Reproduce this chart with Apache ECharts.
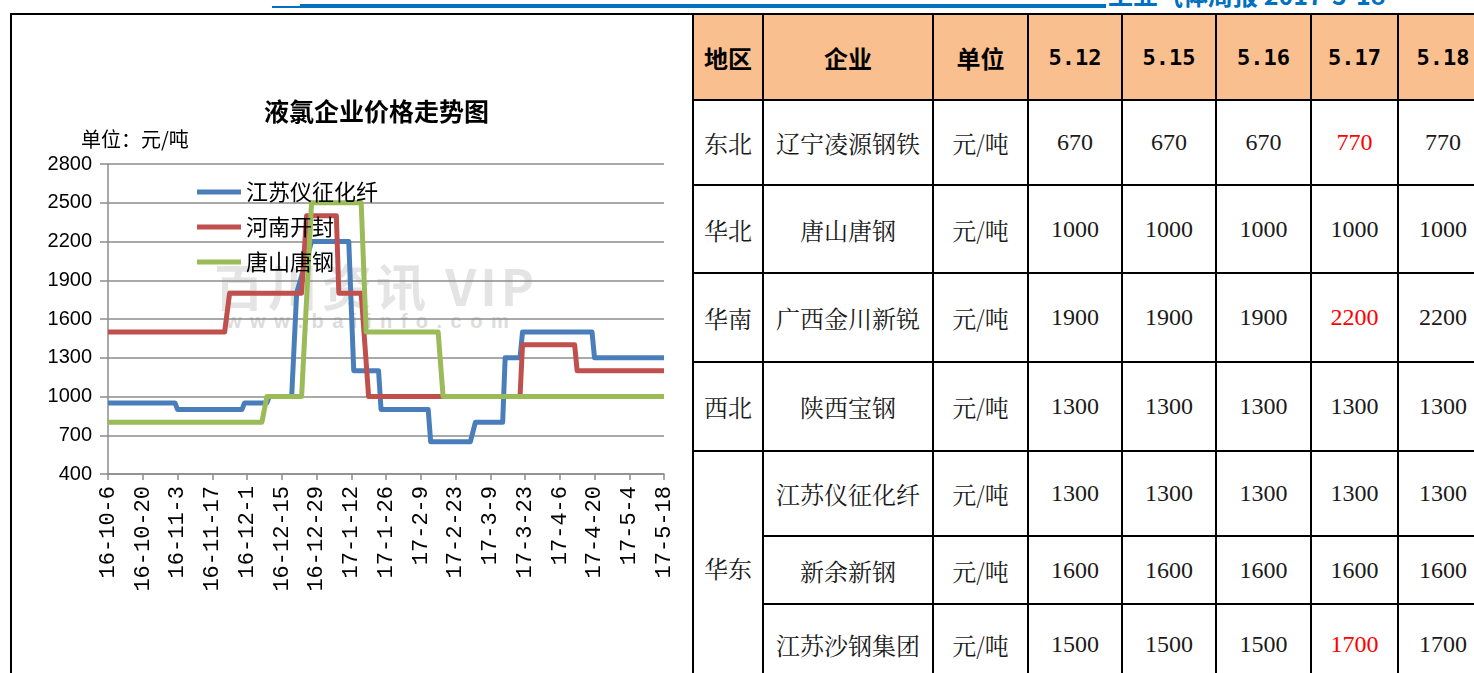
<!DOCTYPE html>
<html>
<head>
<meta charset="utf-8">
<script src="https://cdn.jsdelivr.net/npm/echarts/dist/echarts.min.js"></script>
<style>
  html, body { margin:0; padding:0; width:1474px; height:673px; overflow:hidden; background:#fff; }
  #frame { position:absolute; left:10px; top:13px; width:700px; height:720px; border-left:2px solid #000; border-top:2px solid #000; box-sizing:border-box; }
  .wm1 { position:absolute; left:214px; top:248px; font:bold 50px "Noto Sans CJK SC", "Liberation Sans"; color:#e4e4e4; letter-spacing:4px; white-space:nowrap; z-index:1; }
  .wm2 { position:absolute; left:226px; top:310px; font:bold 20px "Liberation Sans"; color:#dcdcdc; letter-spacing:8.5px; white-space:nowrap; z-index:1; }
  #chart { position:absolute; left:0; top:0; width:692px; height:673px; z-index:2; }
  .bl1 { position:absolute; left:272px; top:6px; width:30px; height:2px; background:#0070C0; }
  .bl2 { position:absolute; left:300px; top:4px; width:806px; height:4px; background:#0070C0; }
  .btitle { position:absolute; left:1108px; top:-24px; font:bold 25px "Noto Sans CJK SC"; color:#0070C0; white-space:nowrap; }
  #tbl { position:absolute; left:692px; top:13px; border-collapse:collapse; table-layout:fixed; width:795px; z-index:3; background:#fff; }
  #tbl td { border:2px solid #000; text-align:center; vertical-align:middle; padding:0; font-size:24px; color:#1a1a1a;
            font-family:"Noto Serif CJK SC","Noto Sans CJK SC"; overflow:hidden; white-space:nowrap; }
  #tbl tr.head td { background:#F9BF8F; color:#000; font-weight:bold; font-family:"Noto Sans CJK SC"; }
  #tbl tr.head td.d { font-family:"DejaVu Sans Mono"; font-size:22px; }
  #tbl td.n { font-family:"Liberation Serif"; font-size:24px; }
  #tbl td.up { color:#FF0000; }
</style>
</head>
<body>
<div class="bl1"></div><div class="bl2"></div>
<div class="btitle">工业气体周报 2017-5-18</div>
<div id="frame"></div>
<div class="wm1">百川资讯 VIP</div>
<div class="wm2">www.baiinfo.com</div>
<div id="chart"></div>
<table id="tbl"></table>
<script>
// ---------- chart data ----------
const chartTitle = '液氯企业价格走势图';
const unitLabel = '单位：元/吨';
const seriesNames = ['江苏仪征化纤', '河南开封', '唐山唐钢'];
const startDate = '2016-10-06';
const tickLabels = ['16-10-6','16-10-20','16-11-3','16-11-17','16-12-1','16-12-15','16-12-29',
  '17-1-12','17-1-26','17-2-9','17-2-23','17-3-9','17-3-23','17-4-6','17-4-20','17-5-4','17-5-18'];
// [date, price] at each price change
const yizheng = [
  ['2016-10-06',950],['2016-11-02',950],['2016-11-03',900],['2016-11-29',900],['2016-11-30',950],
  ['2016-12-09',950],['2016-12-10',1000],['2016-12-19',1000],['2016-12-21',1800],['2016-12-27',2200],
  ['2017-01-11',2200],['2017-01-13',1200],['2017-01-23',1200],['2017-01-24',900],['2017-02-12',900],
  ['2017-02-13',650],['2017-03-01',650],['2017-03-03',800],['2017-03-14',800],['2017-03-15',1300],
  ['2017-03-21',1300],['2017-03-22',1500],['2017-04-19',1500],['2017-04-20',1300],['2017-05-18',1300]
];
const kaifeng = [
  ['2016-10-06',1500],['2016-11-22',1500],['2016-11-24',1800],['2016-12-23',1800],['2016-12-25',2400],
  ['2017-01-06',2400],['2017-01-07',1800],['2017-01-16',1800],['2017-01-19',1000],['2017-03-21',1000],
  ['2017-03-22',1400],['2017-04-12',1400],['2017-04-13',1200],['2017-05-18',1200]
];
const tanggang = [
  ['2016-10-06',800],['2016-12-07',800],['2016-12-09',1000],['2016-12-23',1000],['2016-12-27',2500],
  ['2017-01-16',2500],['2017-01-18',1500],['2017-02-16',1500],['2017-02-18',1000],['2017-05-18',1000]
];
const seriesColors = ['#4A7EBB', '#C0504D', '#9BBB59'];

// ---------- table data ----------
const headLabels = ['地区', '企业', '单位'];
const dateCols = ['5.12', '5.15', '5.16', '5.17', '5.18'];
const regions = ['东北', '华北', '华南', '西北', '华东'];
const regionSpans = [1, 1, 1, 1, 3];
const companies = ['辽宁凌源钢铁', '唐山唐钢', '广西金川新锐', '陕西宝钢', '江苏仪征化纤', '新余新钢', '江苏沙钢集团'];
const unitText = '元/吨';
const prices = [
  [670, 670, 670, 770, 770],
  [1000, 1000, 1000, 1000, 1000],
  [1900, 1900, 1900, 2200, 2200],
  [1300, 1300, 1300, 1300, 1300],
  [1300, 1300, 1300, 1300, 1300],
  [1600, 1600, 1600, 1600, 1600],
  [1500, 1500, 1500, 1700, 1700]
];

// ---------- build table ----------
(function () {
  const colW = [70, 170, 95, 94, 94, 95, 87, 90];
  const rowH = [86, 85, 88, 89, 89, 85, 68, 80];
  const tbl = document.getElementById('tbl');
  const cg = document.createElement('colgroup');
  colW.forEach(w => { const c = document.createElement('col'); c.style.width = w + 'px'; cg.appendChild(c); });
  tbl.appendChild(cg);
  const hr = document.createElement('tr'); hr.className = 'head'; hr.style.height = rowH[0] + 'px';
  headLabels.concat(dateCols).forEach((t, i) => {
    const td = document.createElement('td'); td.textContent = t; if (i >= headLabels.length) td.className = 'd'; hr.appendChild(td);
  });
  tbl.appendChild(hr);
  let ri = 0, left = 0;
  companies.forEach((comp, k) => {
    const tr = document.createElement('tr'); tr.style.height = rowH[k + 1] + 'px';
    if (left === 0) {
      const td = document.createElement('td'); td.textContent = regions[ri]; td.rowSpan = regionSpans[ri];
      left = regionSpans[ri]; ri++; tr.appendChild(td);
    }
    left--;
    const c1 = document.createElement('td'); c1.textContent = comp; tr.appendChild(c1);
    const c2 = document.createElement('td'); c2.textContent = unitText; tr.appendChild(c2);
    prices[k].forEach((v, j) => {
      const td = document.createElement('td'); td.textContent = v;
      td.className = 'n' + (j > 0 && v !== prices[k][j - 1] ? ' up' : '');
      tr.appendChild(td);
    });
    tbl.appendChild(tr);
  });
})();

// ---------- chart ----------
const DAY = 86400000;
const t0 = Date.parse(startDate + 'T00:00:00Z');
const toDays = arr => arr.map(p => [Math.round((Date.parse(p[0] + 'T00:00:00Z') - t0) / DAY), p[1]]);
const tickStep = 14;
const span = (tickLabels.length - 1) * tickStep;

const chart = echarts.init(document.getElementById('chart'), null, { renderer: 'canvas' });
const axisGray = '#8c8c8c';
chart.setOption({
  animation: false,
  backgroundColor: 'transparent',
  grid: { left: 108, top: 164, width: 556, height: 310, containLabel: false },
  graphic: [
    { type: 'text', left: 264, top: 99, z: 10,
      style: { text: chartTitle, font: 'bold 25px "Noto Sans CJK SC"', fill: '#000' } },
    { type: 'text', left: 81, top: 129, z: 10,
      style: { text: unitLabel, font: '20px "Noto Sans CJK SC"', fill: '#000' } }
  ],
  legend: {
    orient: 'vertical', left: 197, top: 181, padding: 0, itemWidth: 44, itemHeight: 5, itemGap: 13,
    icon: 'rect', data: seriesNames,
    textStyle: { fontSize: 22, fontFamily: 'Noto Sans CJK SC', color: '#000', lineHeight: 22 }
  },
  xAxis: {
    type: 'value', min: 0, max: span, interval: tickStep,
    axisLine: { show: true, lineStyle: { color: axisGray, width: 1.5 } },
    axisTick: { show: true, length: 6, lineStyle: { color: axisGray, width: 1.5 } },
    splitLine: { show: false },
    axisLabel: { rotate: 90, margin: 12, fontFamily: 'Liberation Mono', fontSize: 22, color: '#000',
      showMinLabel: true, showMaxLabel: true,
      formatter: v => tickLabels[Math.round(v / tickStep)] }
  },
  yAxis: {
    type: 'value', min: 400, max: 2800, interval: 300,
    axisLine: { show: true, lineStyle: { color: axisGray, width: 1.5 } },
    axisTick: { show: true, length: 8, lineStyle: { color: axisGray, width: 1.5 } },
    splitLine: { show: true, lineStyle: { color: axisGray, width: 1.5 } },
    axisLabel: { margin: 16, fontFamily: 'Liberation Sans', fontSize: 20, color: '#000',
      formatter: v => String(v) }
  },
  series: [yizheng, kaifeng, tanggang].map((d, i) => ({
    name: seriesNames[i], type: 'line', data: toDays(d), showSymbol: false, symbol: 'none',
    color: seriesColors[i],
    lineStyle: { width: 5, color: seriesColors[i], join: 'round' },
    itemStyle: { color: seriesColors[i] }
  }))
});
</script>
</body>
</html>
